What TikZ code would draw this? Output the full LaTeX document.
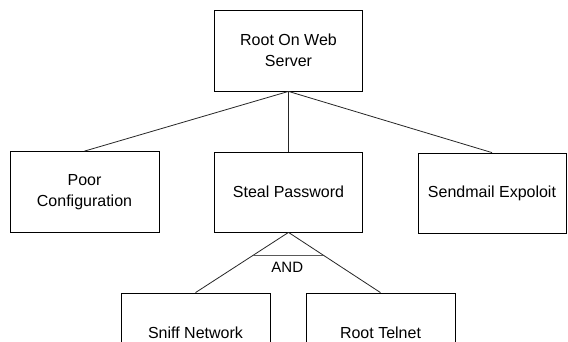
\documentclass[tikz,border=0pt]{standalone}
\usepackage{fontspec}
\setmainfont{Liberation Sans}
\usetikzlibrary{calc}
\begin{document}
\begin{tikzpicture}[x=1pt,y=-1pt,
  goal/.style={draw=black, line width=0.8pt, minimum width=148pt, minimum height=80pt,
    inner sep=2pt, align=center, font=\fontsize{16}{20.5}\selectfont},
  link/.style={draw=black!85, line width=0.8pt}]
  \clip (0,0) rectangle (568,341);
  \fill[white] (0,0) rectangle (568,341);

  % attack tree nodes
  \node[goal, minimum height=81pt] (root) at (288.5,50.5) {Root On Web\\Server};
  \node[goal, minimum width=149pt, minimum height=81pt] (poor) at (84.5,192) {Poor\\Configuration};
  \node[goal] (steal) at (288.5,192) {Steal Password};
  \node[goal] (send) at (492,193) {Sendmail Expoloit};
  \node[goal, minimum width=149pt] (sniff) at (195.5,333) {Sniff Network};
  \node[goal, minimum width=149pt] (telnet) at (380.5,333) {Root Telnet};

  % OR branches from the root goal
  \draw[link] (root.south) -- (poor.north);
  \draw[link] (root.south) -- (steal.north);
  \draw[link] (root.south) -- (send.north);

  % AND branches under Steal Password
  \draw[link] (steal.south) -- (sniff.north);
  \draw[link] (steal.south) -- (telnet.north);
  \coordinate (andL) at ($(steal.south)!0.377!(sniff.north)$);
  \coordinate (andR) at ($(steal.south)!0.377!(telnet.north)$);
  \draw[draw=black!65, line width=0.8pt] (andL) -- (andR);
  \node[font=\fontsize{15}{18}\selectfont, inner sep=0pt] (andlbl) at ($(andL)!0.5!(andR)+(-1,12)$) {AND};
\end{tikzpicture}
\end{document}
